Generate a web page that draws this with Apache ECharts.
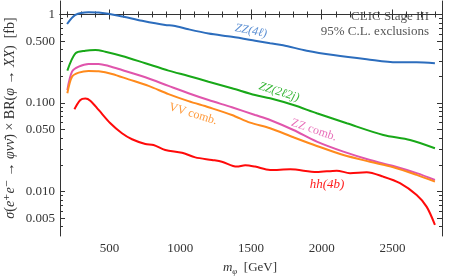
<!DOCTYPE html>
<html>
<head>
<meta charset="utf-8">
<script src="https://cdn.jsdelivr.net/npm/echarts@6/dist/echarts.min.js"></script>
<style>html,body{margin:0;padding:0;background:#fff}#c{width:449px;height:279px}</style>
</head>
<body>
<div id="c"></div>
<script>
// ---- data (mass in GeV, cross section limits in fb) ----
const zz4lMass = [200, 259, 352, 423, 564, 730, 894, 953, 1058, 1200, 1365, 1529, 1635, 1727, 1894, 2082, 2318, 2530, 2671, 2800];
const zz4lVals = [0.78, 0.99, 1.06, 1.05, 0.97, 0.85, 0.76, 0.747, 0.68, 0.61, 0.56, 0.506, 0.473, 0.449, 0.390, 0.348, 0.312, 0.288, 0.288, 0.281];

const zz2l2jMass = [202, 259, 329, 400, 470, 588, 753, 917, 1058, 1200, 1365, 1529, 1635, 1800, 1965, 2177, 2435, 2624, 2800];
const zz2l2jVals = [0.232, 0.364, 0.390, 0.397, 0.380, 0.340, 0.281, 0.232, 0.202, 0.174, 0.147, 0.123, 0.113, 0.0948, 0.0765, 0.059, 0.0435, 0.0382, 0.0308];

const zzCombMass = [202, 235, 282, 352, 423, 494, 588, 753, 917, 1058, 1200, 1365, 1529, 1635, 1800, 1965, 2153, 2341, 2506, 2671, 2800];
const zzCombVals = [0.140, 0.226, 0.257, 0.276, 0.276, 0.262, 0.236, 0.195, 0.156, 0.129, 0.108, 0.0894, 0.0732, 0.0643, 0.0495, 0.0366, 0.0282, 0.0227, 0.0194, 0.0161, 0.0135];

const vvCombMass = [202, 235, 282, 352, 423, 518, 635, 776, 917, 1058, 1200, 1365, 1494, 1635, 1800, 1965, 2153, 2341, 2506, 2671, 2800];
const vvCombVals = [0.129, 0.198, 0.220, 0.230, 0.228, 0.213, 0.185, 0.156, 0.126, 0.105, 0.0894, 0.0732, 0.0599, 0.0518, 0.0410, 0.0327, 0.0258, 0.0217, 0.0188, 0.0154, 0.0129];

const hh4bMass = [252, 294, 329, 364, 423, 506, 588, 659, 753, 811, 894, 1012, 1106, 1224, 1294, 1400, 1459, 1529, 1635, 1777, 1965, 2106, 2200, 2318, 2435, 2553, 2671, 2742, 2800];
const hh4bVals = [0.0849, 0.108, 0.112, 0.106, 0.0834, 0.059, 0.0455, 0.0389, 0.0344, 0.0335, 0.0294, 0.0274, 0.0243, 0.0227, 0.0217, 0.0191, 0.0198, 0.0191, 0.0175, 0.0178, 0.0166, 0.0172, 0.0161, 0.0165, 0.0147, 0.0124, 0.0091, 0.0067, 0.0042];

// ---- ticks ----
const xMajorTicks = [500, 1000, 1500, 2000, 2500];
const xMinorTicks = [200, 300, 400, 600, 700, 800, 900, 1100, 1200, 1300, 1400, 1600, 1700, 1800, 1900, 2100, 2200, 2300, 2400, 2600, 2700, 2800];
const yMajorTicks = [0.005, 0.01, 0.05, 0.1, 0.5, 1];
const yTickLabels = ['0.005', '0.010', '0.050', '0.100', '0.500', '1'];
const yMinorTicks = [0.004, 0.006, 0.007, 0.008, 0.009, 0.02, 0.03, 0.04, 0.06, 0.07, 0.08, 0.09, 0.2, 0.3, 0.4, 0.6, 0.7, 0.8, 0.9];

const L = Math.log10;
const pairs = (xs, ys) => xs.map((x, i) => [x, L(ys[i])]);

const serif = '"Liberation Serif", "DejaVu Serif", serif';
const frameColor = '#333';
const tickStyle = { color: frameColor, width: 1 };

function xAx(pos, ticks, len, labels, line) {
  return {
    type: 'value', position: pos, min: 150, max: 2850,
    axisLine: { show: line, lineStyle: { color: frameColor, width: 1 } },
    axisTick: { show: true, inside: true, length: len, customValues: ticks, lineStyle: tickStyle },
    axisLabel: labels ? { show: true, customValues: xMajorTicks, margin: 6, color: '#333', fontFamily: serif, fontSize: 13,
      formatter: function (v) { return String(Math.round(v)); } } : { show: false },
    splitLine: { show: false }
  };
}
function yAx(pos, ticks, len, labels, line) {
  return {
    type: 'value', position: pos, min: L(0.00314), max: L(1.42),
    axisLine: { show: line, lineStyle: { color: frameColor, width: 1 } },
    axisTick: { show: true, inside: true, length: len, customValues: ticks.map(L), lineStyle: tickStyle },
    axisLabel: labels ? {
      show: true, customValues: yMajorTicks.map(L), margin: 5, color: '#333', fontFamily: serif, fontSize: 13,
      formatter: function (v) {
        let best = 0, d = 1e9;
        yMajorTicks.forEach((t, i) => { const dd = Math.abs(L(t) - v); if (dd < d) { d = dd; best = i; } });
        return yTickLabels[best];
      }
    } : { show: false },
    splitLine: { show: false }
  };
}

function lineSeries(name, xs, ys, color) {
  return {
    name: name, type: 'line', xAxisIndex: 0, yAxisIndex: 0,
    data: pairs(xs, ys), showSymbol: false, smooth: 0.3,
    lineStyle: { color: color, width: 2 }, itemStyle: { color: color }, silent: true, animation: false
  };
}

const chart = echarts.init(document.getElementById('c'), null, { renderer: 'canvas' });
chart.setOption({
  animation: false,
  backgroundColor: '#fff',
  grid: { left: 60, right: 7, top: 1, bottom: 43, containLabel: false },
  xAxis: [
    xAx('bottom', xMajorTicks, 5, true, true),
    xAx('bottom', xMinorTicks, 3, false, false),
    xAx('top', xMajorTicks, 5, false, true),
    xAx('top', xMinorTicks, 3, false, false)
  ],
  yAxis: [
    yAx('left', yMajorTicks, 5, true, true),
    yAx('left', yMinorTicks, 3, false, false),
    yAx('right', yMajorTicks, 5, false, true),
    yAx('right', yMinorTicks, 3, false, false)
  ],
  series: [
    lineSeries('ZZ(4l)', zz4lMass, zz4lVals, '#2c6dbd'),
    lineSeries('ZZ(2l2j)', zz2l2jMass, zz2l2jVals, '#18a818'),
    lineSeries('ZZ comb.', zzCombMass, zzCombVals, '#e055ac'),
    lineSeries('VV comb.', vvCombMass, vvCombVals, '#ff8a1c'),
    lineSeries('hh(4b)', hh4bMass, hh4bVals, '#ff0a0a')
  ],
  graphic: [
    { type: 'text', x: 429, y: 17, style: { text: 'CLIC Stage III', font: '13px ' + serif, fill: '#555', align: 'right', verticalAlign: 'middle' } },
    { type: 'text', x: 429, y: 32, style: { text: '95% C.L. exclusions', font: '13px ' + serif, fill: '#555', align: 'right', verticalAlign: 'middle' } },
    { type: 'text', x: 251, y: 31, rotation: -11 * Math.PI / 180, style: { text: 'ZZ(4ℓ)', font: 'italic 12px ' + serif, fill: '#5b8fd3', align: 'center', verticalAlign: 'middle' } },
    { type: 'text', x: 279, y: 92, rotation: -17 * Math.PI / 180, style: { text: 'ZZ(2ℓ2j)', font: 'italic 12px ' + serif, fill: '#36b636', align: 'center', verticalAlign: 'middle' } },
    { type: 'text', x: 314, y: 130, rotation: -19 * Math.PI / 180, style: { text: 'ZZ comb.', font: '12px ' + serif, fill: '#e86db8', align: 'center', verticalAlign: 'middle' } },
    { type: 'text', x: 193, y: 114, rotation: -17 * Math.PI / 180, style: { text: 'VV comb.', font: '12px ' + serif, fill: '#ff9a3c', align: 'center', verticalAlign: 'middle' } },
    { type: 'text', x: 327, y: 185, style: { text: 'hh(4b)', font: 'italic 13px ' + serif, fill: '#ff2020', align: 'center', verticalAlign: 'middle' } },
    { type: 'text', x: 250, y: 268, style: {
        text: '{i|m}{s|φ}  [GeV]', align: 'center', verticalAlign: 'middle', fill: '#333',
        font: '13px ' + serif,
        rich: { i: { fontStyle: 'italic', fontFamily: serif, fontSize: 13, lineHeight: 16, verticalAlign: 'middle' },
                s: { fontStyle: 'italic', fontFamily: serif, fontSize: 9, lineHeight: 16, verticalAlign: 'bottom' } }
      } },
    { type: 'text', x: 10, y: 118, rotation: Math.PI / 2, style: {
        text: '{i|σ}({i|e}⁺{i|e}⁻ → {i|φνν\u0304}) × BR({i|φ} → {i|XX})  [fb]', align: 'center', verticalAlign: 'middle', fill: '#333',
        font: '14px ' + serif,
        rich: { i: { fontStyle: 'italic', fontFamily: serif, fontSize: 14 } }
      } }
  ]
});
</script>
</body>
</html>
